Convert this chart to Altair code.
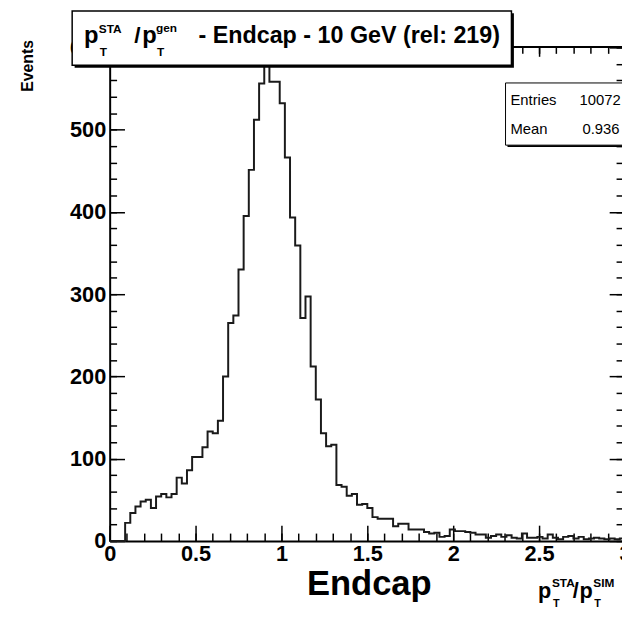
import altair as alt
import pandas as pd

# ---- data (100 bins from 0 to 3) ----
N_BINS = 100
X_LO, X_HI = 0.0, 3.0
counts = [0, 0, 0, 22, 34, 42, 48, 50, 40, 54,
          57, 53, 57, 77, 70, 86, 102, 102, 114, 133,
          131, 146, 200, 265, 274, 330, 395, 451, 512, 556,
          590, 558, 558, 532, 466, 393, 359, 271, 297, 212,
          172, 131, 115, 117, 68, 66, 55, 57, 44, 45,
          40, 29, 27, 27, 27, 18, 21, 21, 14, 14,
          14, 11, 9, 10, 5, 6, 14, 12, 12, 11,
          10, 8, 8, 4, 6, 8, 5, 7, 4, 3,
          9, 4, 4, 5, 3, 8, 4, 2, 5, 6,
          3, 5, 2, 3, 4, 3, 2, 3, 2, 3]
X_MAJOR = [0, 0.5, 1, 1.5, 2, 2.5, 3]
X_MINOR = [i / 10 for i in range(31)]
Y_MAJOR = [0, 100, 200, 300, 400, 500, 600]
Y_MINOR = [i * 20 for i in range(31)]
Y_MAX = 601
ENTRIES = "10072"
MEAN = "0.936"

bw = (X_HI - X_LO) / N_BINS
edges = [X_LO + i * bw for i in range(N_BINS)] + [X_HI]
vals = counts + [counts[-1]]
df = pd.DataFrame({"x": edges, "n": vals})
one = pd.DataFrame({"k": [0]})

# ---- layout (pixels) ----
W, H = 519, 501      # plot area shown (right part of the frame is off-page)
XR = 522             # pixel of x = 3
OX, OY = 111, 43     # page position of plot origin


def px(x):
    return x - OX


def py(y):
    return y - OY


FONT = "Liberation Sans"

xscale = alt.Scale(domain=[X_LO, X_HI], range=[0, XR], nice=False, zero=False)
yscale = alt.Scale(domain=[0, Y_MAX], nice=False)


def tick_axis(orient, values, size, offset, domain=False):
    return alt.Axis(orient=orient, values=values, tickSize=size, offset=offset,
                    domain=domain, labels=False, grid=False, title=None, ticks=True,
                    tickColor="black", tickWidth=1.5, domainColor="black", domainWidth=2)


hist = alt.Chart(df).mark_line(interpolate="step-after", color="#1a1a1a", strokeWidth=2).encode(
    x=alt.X("x:Q", scale=xscale,
            axis=alt.Axis(orient="bottom", values=X_MAJOR, format="~g", ticks=False, tickSize=0,
                          labelPadding=3, labelFont=FONT, labelFontWeight="bold", labelFontSize=22,
                          labelColor="black", labelFlush=False, domain=True, domainColor="black",
                          domainWidth=2, grid=False, title=None)),
    y=alt.Y("n:Q", scale=yscale,
            axis=alt.Axis(orient="left", values=Y_MAJOR, format="d", ticks=False, tickSize=0,
                          labelPadding=4, labelFont=FONT, labelFontWeight="bold", labelFontSize=22,
                          labelColor="black", labelFlush=False, domain=True, domainColor="black",
                          domainWidth=2, grid=False, title="Events", titleFont=FONT,
                          titleFontWeight="bold", titleFontSize=16, titleColor="black",
                          titleAngle=-90, titleAlign="right", titleBaseline="middle",
                          titleX=px(28), titleY=py(36))),
)

# inward ticks: bottom (major/minor) and left (major/minor)
t1 = alt.Chart(df).mark_line(opacity=0).encode(
    x=alt.X("x:Q", axis=tick_axis("top", X_MAJOR, 16, -H)),
    y=alt.Y("n:Q", axis=tick_axis("right", Y_MAJOR, 15, -W)),
)
t2 = alt.Chart(df).mark_line(opacity=0).encode(
    x=alt.X("x:Q", axis=tick_axis("top", X_MINOR, 8, -H)),
    y=alt.Y("n:Q", axis=tick_axis("right", Y_MINOR, 7, -W)),
)
# top frame and right frame ticks
t3 = alt.Chart(df).mark_line(opacity=0).encode(
    x=alt.X("x:Q", axis=tick_axis("bottom", X_MAJOR, 10, -H, domain=True)),
    y=alt.Y("n:Q", axis=tick_axis("left", Y_MAJOR, 16, -XR, domain=True)),
)
t4 = alt.Chart(df).mark_line(opacity=0).encode(
    x=alt.X("x:Q", axis=tick_axis("bottom", X_MINOR, 7, -H)),
    y=alt.Y("n:Q", axis=tick_axis("left", Y_MINOR, 9, -XR)),
)


def box(x1, y1, x2, y2, fill, stroke=None, sw=0):
    kw = dict(fill=fill)
    if stroke:
        kw.update(stroke=stroke, strokeWidth=sw)
    return alt.Chart(one).mark_rect(**kw).encode(
        x=alt.value(px(x1)), x2=alt.value(px(x2)), y=alt.value(py(y1)), y2=alt.value(py(y2)))


def txt(s, x, y, size, bold=True, align="left"):
    return alt.Chart(one).mark_text(align=align, baseline="alphabetic", font=FONT,
                                     fontWeight="bold" if bold else "normal",
                                     fontSize=size, color="black").encode(
        x=alt.value(px(x)), y=alt.value(py(y)), text=alt.value(s))


layers = [t1, t2, t3, t4, hist,
          # title box with shadow
          box(75.5, 9.5, 520.5, 64.5, "black"),
          box(73, 7, 518, 62, "white", "black", 1.5),
          txt("p", 85, 40, 24), txt("STA", 100, 29, 12), txt("T", 101, 53, 12),
          txt("/", 136, 40, 23),
          txt("p", 144, 40, 24), txt("gen", 158, 28, 12), txt("T", 159, 53, 12),
          txt("- Endcap - 10 GeV (rel: 219)", 201, 40, 23.6),
          # stats box
          box(514, 82, 660, 145, "black"),
          box(512, 80, 658, 143, "white", "black", 1),
          txt("Entries", 517, 102, 15, bold=False), txt(ENTRIES, 587, 102, 15, bold=False),
          txt("Mean", 517, 132, 15, bold=False), txt(MEAN, 590, 132, 15, bold=False),
          # bottom texts
          txt("Endcap", 374, 599, 35, align="center"),
          txt("p", 545, 602, 22), txt("STA", 559, 591, 12), txt("T", 560, 611, 11),
          txt("/", 580, 602, 22),
          txt("p", 587, 602, 22), txt("SIM", 601, 591, 12), txt("T", 602, 611, 11),
          ]

chart = alt.layer(*layers).resolve_axis(x="independent", y="independent").properties(
    width=W, height=H,
    autosize=alt.AutoSizeParams(type="none"),
    padding={"left": OX - 8, "top": OY - 8, "right": 0, "bottom": 68},
    background="white",
).configure_view(stroke=None)

chart.save("out.html", embed_options={"renderer": "svg", "actions": False})
